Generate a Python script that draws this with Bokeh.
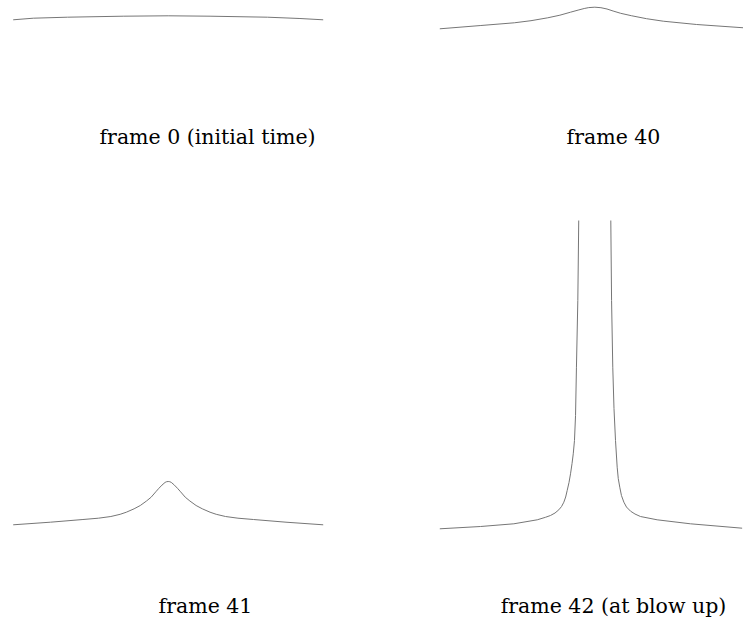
from bokeh.plotting import figure
from bokeh.layouts import column, row
from bokeh.models import Label, Range1d
from bokeh.embed import file_html
from bokeh.resources import INLINE

# ---- data ----
frame0_x = [-1.0, -0.87, -0.65, -0.29, 0.0, 0.27, 0.64, 0.85, 1.0]
frame0_u = [1.0, 1.016, 1.026, 1.036, 1.040, 1.036, 1.026, 1.013, 1.0]

frame40_x = [-1.0, -0.73, -0.51, -0.40, -0.29, -0.21, -0.14, -0.09, -0.05, -0.02,
             0.02, 0.06, 0.10, 0.14, 0.19, 0.26, 0.36, 0.47, 0.69, 1.0]
frame40_u = [0.997, 1.03, 1.057, 1.078, 1.107, 1.133, 1.163, 1.184, 1.200, 1.209,
             1.213, 1.208, 1.195, 1.175, 1.152, 1.128, 1.098, 1.073, 1.04, 1.007]

frame41_x = [-1.0, -0.76, -0.55, -0.45, -0.37, -0.31, -0.27, -0.22, -0.18, -0.14,
             -0.11, -0.08, -0.06, -0.04, -0.02, -0.01, 0.0,
             0.01, 0.02, 0.04, 0.06, 0.08, 0.11, 0.14, 0.18, 0.22,
             0.27, 0.31, 0.37, 0.45, 0.55, 0.76, 1.0]
frame41_u = [1.0, 1.026, 1.053, 1.066, 1.083, 1.105, 1.126, 1.16, 1.193, 1.238,
             1.276, 1.33, 1.365, 1.397, 1.424, 1.431, 1.433,
             1.431, 1.424, 1.397, 1.365, 1.33, 1.276, 1.238, 1.193, 1.16,
             1.126, 1.105, 1.083, 1.066, 1.053, 1.026, 1.0]

frame42_left_x = [-1.0, -0.732, -0.513, -0.359, -0.305, -0.272, -0.242, -0.217, -0.199,
                  -0.184, -0.172, -0.162, -0.150, -0.140, -0.130, -0.122, -0.114,
                  -0.107, -0.101, -0.092, -0.086]
frame42_left_u = [0.997, 1.02, 1.047, 1.087, 1.112, 1.13, 1.155, 1.187, 1.22,
                  1.263, 1.315, 1.38, 1.46, 1.547, 1.65, 1.747, 1.88,
                  2.13, 2.613, 3.28, 4.08]
frame42_right_x = [0.125, 0.130, 0.138, 0.146, 0.156, 0.167, 0.174, 0.184, 0.195,
                   0.211, 0.228, 0.255, 0.284, 0.320, 0.430, 0.649, 0.989]
frame42_right_u = [4.08, 3.28, 2.613, 2.2, 1.88, 1.613, 1.50, 1.413, 1.33,
                   1.263, 1.215, 1.173, 1.145, 1.12, 1.087, 1.047, 1.003]

titles = ["frame 0 (initial time)", "frame 40", "frame 41", "frame 42 (at blow up)"]

LINE_COLOR = "#767676"


def panel(curves, title, width, height, xr, yr, lx, ly):
    p = figure(width=width, height=height,
               x_range=Range1d(*xr), y_range=Range1d(*yr),
               output_backend="svg", toolbar_location=None,
               x_axis_location=None, y_axis_location=None,
               min_border=0)
    p.grid.visible = False
    p.outline_line_color = None
    p.background_fill_color = "white"
    p.border_fill_color = "white"
    for xs, us in curves:
        p.line(xs, us, line_color=LINE_COLOR, line_width=1, line_join="round")
    p.add_layout(Label(x=lx, y=ly, x_units="screen", y_units="screen",
                       text=title, text_align="center", text_baseline="alphabetic",
                       text_font="DejaVu Serif", text_font_size="20.5px",
                       text_color="black"))
    return p


LEFT_W, RIGHT_W = 430, 313
TOP_H, BOT_H = 160, 459
XR_LEFT = (-1.0819, 1.6923)
XR_RIGHT = (-1.0612, 0.998)

p0 = panel([(frame0_x, frame0_u)], titles[0], LEFT_W, TOP_H, XR_LEFT, (-0.407, 1.193), 207, 24)
p40 = panel([(frame40_x, frame40_u)], titles[1], RIGHT_W, TOP_H, XR_RIGHT, (-0.32, 1.28), 183, 24)
p41 = panel([(frame41_x, frame41_u)], titles[2], LEFT_W, BOT_H, XR_LEFT, (0.053, 4.643), 205, 14)
p42 = panel([(frame42_left_x, frame42_left_u), (frame42_right_x, frame42_right_u)],
            titles[3], RIGHT_W, BOT_H, XR_RIGHT, (0.09, 4.68), 183, 14)

layout = column(row(p0, p40), row(p41, p42))

open("out.html", "w").write(file_html(layout, INLINE))
